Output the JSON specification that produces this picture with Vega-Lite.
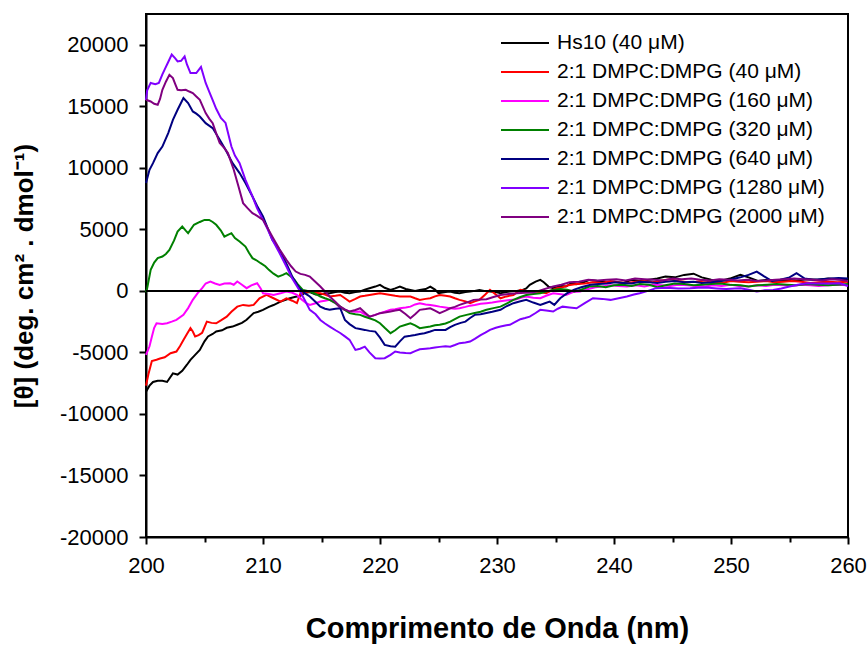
{
  "$schema": "https://vega.github.io/schema/vega-lite/v6.json",
  "width": 702,
  "height": 523,
  "autosize": {"type": "none"},
  "padding": {"left": 146, "top": 14, "right": 20, "bottom": 108},
  "background": "white",
  "config": {
    "view": {"stroke": "black", "strokeWidth": 2},
    "font": "Liberation Sans",
    "axis": {
      "grid": false,
      "domainColor": "black",
      "domainWidth": 2,
      "tickColor": "black",
      "tickWidth": 2,
      "labelColor": "black",
      "labelFont": "Liberation Sans",
      "labelFontSize": 22,
      "titleFont": "Liberation Sans",
      "titleFontWeight": "bold",
      "titleColor": "black"
    }
  },
  "layer": [
    {
      "data": {"name": "curves"},
      "mark": {"type": "line", "strokeWidth": 2, "interpolate": "linear"},
      "encoding": {
        "x": {
          "field": "x", "type": "quantitative",
          "scale": {"domain": [200, 260], "nice": false, "zero": false},
          "axis": {
            "values": [200, 205, 210, 215, 220, 225, 230, 235, 240, 245, 250, 255, 260],
            "labelExpr": "datum.value % 10 === 0 ? '' + datum.value : ''",
            "tickSize": {"condition": {"test": "datum.value % 10 === 0", "value": 7}, "value": 5},
            "labelPadding": 11,
            "labelFlush": false,
            "title": "Comprimento de Onda (nm)",
            "titleFontSize": 29,
            "titlePadding": 38
          }
        },
        "y": {
          "field": "y", "type": "quantitative",
          "scale": {"domain": [-20000, 22500], "nice": false, "zero": false},
          "axis": {
            "values": [-20000, -17500, -15000, -12500, -10000, -7500, -5000, -2500, 0, 2500, 5000, 7500, 10000, 12500, 15000, 17500, 20000],
            "labelExpr": "datum.value % 5000 === 0 ? '' + datum.value : ''",
            "tickSize": {"condition": {"test": "datum.value % 5000 === 0", "value": 7}, "value": 5},
            "labelPadding": 11,
            "labelFlush": false,
            "title": "[θ] (deg. cm² . dmol⁻¹)",
            "titleFontSize": 26,
            "titlePadding": 22
          }
        },
        "color": {
          "field": "s", "type": "nominal",
          "scale": {
            "domain": ["Hs10 (40 μM)", "2:1 DMPC:DMPG (40 μM)", "2:1 DMPC:DMPG (160 μM)", "2:1 DMPC:DMPG (320 μM)", "2:1 DMPC:DMPG (640 μM)", "2:1 DMPC:DMPG (1280 μM)", "2:1 DMPC:DMPG (2000 μM)"],
            "range": ["#000000", "#FF0000", "#FF00FF", "#008000", "#000080", "#8000FF", "#800080"]
          },
          "legend": {
            "title": null,
            "orient": "none",
            "legendX": 354,
            "legendY": 18,
            "padding": 0,
            "symbolType": "M-1,0H3.8",
            "symbolSize": 400,
            "symbolStrokeWidth": 2,
            "labelFont": "Liberation Sans",
            "labelFontSize": 21,
            "labelColor": "black",
            "labelOffset": 35,
            "rowPadding": 8,
            "labelLimit": 400
          }
        },
        "order": {"field": "x", "type": "quantitative"}
      }
    },
    {
      "data": {"values": [{"zero": 0}]},
      "mark": {"type": "rule", "color": "black", "strokeWidth": 2},
      "encoding": {"y": {"field": "zero", "type": "quantitative"}}
    }
  ],
  "datasets": {
    "curves": [
{"s":"Hs10 (40 μM)","x":200.0,"y":-8200},{"s":"Hs10 (40 μM)","x":200.3,"y":-7700},{"s":"Hs10 (40 μM)","x":200.6,"y":-7400},{"s":"Hs10 (40 μM)","x":201.0,"y":-7300},{"s":"Hs10 (40 μM)","x":201.4,"y":-7300},{"s":"Hs10 (40 μM)","x":201.8,"y":-7400},{"s":"Hs10 (40 μM)","x":202.3,"y":-6700},{"s":"Hs10 (40 μM)","x":202.7,"y":-6800},{"s":"Hs10 (40 μM)","x":203.1,"y":-6500},{"s":"Hs10 (40 μM)","x":203.5,"y":-6000},{"s":"Hs10 (40 μM)","x":203.8,"y":-5600},{"s":"Hs10 (40 μM)","x":204.2,"y":-5200},{"s":"Hs10 (40 μM)","x":204.6,"y":-4800},{"s":"Hs10 (40 μM)","x":205.0,"y":-4100},{"s":"Hs10 (40 μM)","x":205.3,"y":-3700},{"s":"Hs10 (40 μM)","x":205.7,"y":-3500},{"s":"Hs10 (40 μM)","x":206.0,"y":-3300},{"s":"Hs10 (40 μM)","x":206.5,"y":-3200},{"s":"Hs10 (40 μM)","x":206.9,"y":-3000},{"s":"Hs10 (40 μM)","x":207.4,"y":-2900},{"s":"Hs10 (40 μM)","x":207.8,"y":-2750},{"s":"Hs10 (40 μM)","x":208.2,"y":-2600},{"s":"Hs10 (40 μM)","x":208.6,"y":-2350},{"s":"Hs10 (40 μM)","x":209.2,"y":-1800},{"s":"Hs10 (40 μM)","x":209.6,"y":-1700},{"s":"Hs10 (40 μM)","x":210.0,"y":-1550},{"s":"Hs10 (40 μM)","x":210.5,"y":-1300},{"s":"Hs10 (40 μM)","x":210.9,"y":-1150},{"s":"Hs10 (40 μM)","x":211.5,"y":-870},{"s":"Hs10 (40 μM)","x":212.0,"y":-700},{"s":"Hs10 (40 μM)","x":212.3,"y":-600},{"s":"Hs10 (40 μM)","x":212.7,"y":-500},{"s":"Hs10 (40 μM)","x":213.2,"y":-400},{"s":"Hs10 (40 μM)","x":213.6,"y":-150},{"s":"Hs10 (40 μM)","x":214.0,"y":-100},{"s":"Hs10 (40 μM)","x":214.5,"y":-300},{"s":"Hs10 (40 μM)","x":214.9,"y":-300},{"s":"Hs10 (40 μM)","x":215.3,"y":-200},{"s":"Hs10 (40 μM)","x":215.7,"y":-190},{"s":"Hs10 (40 μM)","x":216.2,"y":-100},{"s":"Hs10 (40 μM)","x":216.6,"y":-50},{"s":"Hs10 (40 μM)","x":217.0,"y":-150},{"s":"Hs10 (40 μM)","x":217.4,"y":-190},{"s":"Hs10 (40 μM)","x":217.9,"y":-100},{"s":"Hs10 (40 μM)","x":218.3,"y":-50},{"s":"Hs10 (40 μM)","x":218.7,"y":100},{"s":"Hs10 (40 μM)","x":219.1,"y":220},{"s":"Hs10 (40 μM)","x":219.6,"y":350},{"s":"Hs10 (40 μM)","x":220.0,"y":490},{"s":"Hs10 (40 μM)","x":220.4,"y":250},{"s":"Hs10 (40 μM)","x":220.9,"y":80},{"s":"Hs10 (40 μM)","x":221.3,"y":200},{"s":"Hs10 (40 μM)","x":221.7,"y":350},{"s":"Hs10 (40 μM)","x":222.2,"y":150},{"s":"Hs10 (40 μM)","x":222.6,"y":80},{"s":"Hs10 (40 μM)","x":223.0,"y":0},{"s":"Hs10 (40 μM)","x":223.4,"y":80},{"s":"Hs10 (40 μM)","x":223.9,"y":150},{"s":"Hs10 (40 μM)","x":224.3,"y":350},{"s":"Hs10 (40 μM)","x":224.7,"y":100},{"s":"Hs10 (40 μM)","x":225.0,"y":-190},{"s":"Hs10 (40 μM)","x":225.6,"y":-100},{"s":"Hs10 (40 μM)","x":226.0,"y":-50},{"s":"Hs10 (40 μM)","x":226.4,"y":-150},{"s":"Hs10 (40 μM)","x":226.8,"y":-190},{"s":"Hs10 (40 μM)","x":227.3,"y":-100},{"s":"Hs10 (40 μM)","x":227.7,"y":-50},{"s":"Hs10 (40 μM)","x":228.1,"y":0},{"s":"Hs10 (40 μM)","x":228.5,"y":80},{"s":"Hs10 (40 μM)","x":229.0,"y":-20},{"s":"Hs10 (40 μM)","x":229.4,"y":-50},{"s":"Hs10 (40 μM)","x":229.9,"y":-100},{"s":"Hs10 (40 μM)","x":230.3,"y":-190},{"s":"Hs10 (40 μM)","x":230.8,"y":-100},{"s":"Hs10 (40 μM)","x":231.1,"y":-50},{"s":"Hs10 (40 μM)","x":231.7,"y":0},{"s":"Hs10 (40 μM)","x":232.2,"y":80},{"s":"Hs10 (40 μM)","x":232.5,"y":200},{"s":"Hs10 (40 μM)","x":232.8,"y":490},{"s":"Hs10 (40 μM)","x":233.3,"y":750},{"s":"Hs10 (40 μM)","x":233.7,"y":890},{"s":"Hs10 (40 μM)","x":234.0,"y":700},{"s":"Hs10 (40 μM)","x":234.4,"y":350},{"s":"Hs10 (40 μM)","x":234.8,"y":220},{"s":"Hs10 (40 μM)","x":235.1,"y":300},{"s":"Hs10 (40 μM)","x":235.5,"y":400},{"s":"Hs10 (40 μM)","x":235.9,"y":350},{"s":"Hs10 (40 μM)","x":236.3,"y":600},{"s":"Hs10 (40 μM)","x":236.8,"y":550},{"s":"Hs10 (40 μM)","x":237.4,"y":700},{"s":"Hs10 (40 μM)","x":237.9,"y":890},{"s":"Hs10 (40 μM)","x":238.6,"y":800},{"s":"Hs10 (40 μM)","x":239.3,"y":700},{"s":"Hs10 (40 μM)","x":240.0,"y":750},{"s":"Hs10 (40 μM)","x":240.8,"y":650},{"s":"Hs10 (40 μM)","x":241.5,"y":900},{"s":"Hs10 (40 μM)","x":242.2,"y":800},{"s":"Hs10 (40 μM)","x":243.0,"y":900},{"s":"Hs10 (40 μM)","x":243.7,"y":1000},{"s":"Hs10 (40 μM)","x":244.4,"y":1160},{"s":"Hs10 (40 μM)","x":245.2,"y":1100},{"s":"Hs10 (40 μM)","x":246.0,"y":1300},{"s":"Hs10 (40 μM)","x":246.8,"y":1400},{"s":"Hs10 (40 μM)","x":247.5,"y":1100},{"s":"Hs10 (40 μM)","x":248.3,"y":900},{"s":"Hs10 (40 μM)","x":249.1,"y":800},{"s":"Hs10 (40 μM)","x":249.9,"y":1000},{"s":"Hs10 (40 μM)","x":250.8,"y":1300},{"s":"Hs10 (40 μM)","x":251.5,"y":1100},{"s":"Hs10 (40 μM)","x":252.3,"y":800},{"s":"Hs10 (40 μM)","x":253.1,"y":900},{"s":"Hs10 (40 μM)","x":253.9,"y":850},{"s":"Hs10 (40 μM)","x":254.8,"y":900},{"s":"Hs10 (40 μM)","x":255.6,"y":850},{"s":"Hs10 (40 μM)","x":256.5,"y":950},{"s":"Hs10 (40 μM)","x":257.4,"y":900},{"s":"Hs10 (40 μM)","x":258.3,"y":1000},{"s":"Hs10 (40 μM)","x":259.1,"y":950},{"s":"Hs10 (40 μM)","x":260.0,"y":900},
{"s":"2:1 DMPC:DMPG (40 μM)","x":200.0,"y":-7700},{"s":"2:1 DMPC:DMPG (40 μM)","x":200.2,"y":-6800},{"s":"2:1 DMPC:DMPG (40 μM)","x":200.5,"y":-5700},{"s":"2:1 DMPC:DMPG (40 μM)","x":200.9,"y":-5600},{"s":"2:1 DMPC:DMPG (40 μM)","x":201.2,"y":-5500},{"s":"2:1 DMPC:DMPG (40 μM)","x":201.6,"y":-5400},{"s":"2:1 DMPC:DMPG (40 μM)","x":202.1,"y":-5070},{"s":"2:1 DMPC:DMPG (40 μM)","x":202.6,"y":-4930},{"s":"2:1 DMPC:DMPG (40 μM)","x":202.9,"y":-4500},{"s":"2:1 DMPC:DMPG (40 μM)","x":203.2,"y":-4000},{"s":"2:1 DMPC:DMPG (40 μM)","x":203.5,"y":-3500},{"s":"2:1 DMPC:DMPG (40 μM)","x":203.8,"y":-3030},{"s":"2:1 DMPC:DMPG (40 μM)","x":204.0,"y":-3300},{"s":"2:1 DMPC:DMPG (40 μM)","x":204.2,"y":-3700},{"s":"2:1 DMPC:DMPG (40 μM)","x":204.5,"y":-3600},{"s":"2:1 DMPC:DMPG (40 μM)","x":204.8,"y":-3400},{"s":"2:1 DMPC:DMPG (40 μM)","x":205.2,"y":-2500},{"s":"2:1 DMPC:DMPG (40 μM)","x":205.6,"y":-2600},{"s":"2:1 DMPC:DMPG (40 μM)","x":206.0,"y":-2630},{"s":"2:1 DMPC:DMPG (40 μM)","x":206.4,"y":-2400},{"s":"2:1 DMPC:DMPG (40 μM)","x":206.9,"y":-2090},{"s":"2:1 DMPC:DMPG (40 μM)","x":207.3,"y":-1700},{"s":"2:1 DMPC:DMPG (40 μM)","x":207.8,"y":-1280},{"s":"2:1 DMPC:DMPG (40 μM)","x":208.3,"y":-1140},{"s":"2:1 DMPC:DMPG (40 μM)","x":208.8,"y":-1200},{"s":"2:1 DMPC:DMPG (40 μM)","x":209.2,"y":-1140},{"s":"2:1 DMPC:DMPG (40 μM)","x":209.7,"y":-600},{"s":"2:1 DMPC:DMPG (40 μM)","x":210.3,"y":-330},{"s":"2:1 DMPC:DMPG (40 μM)","x":210.9,"y":-600},{"s":"2:1 DMPC:DMPG (40 μM)","x":211.5,"y":-870},{"s":"2:1 DMPC:DMPG (40 μM)","x":212.0,"y":-600},{"s":"2:1 DMPC:DMPG (40 μM)","x":212.5,"y":-800},{"s":"2:1 DMPC:DMPG (40 μM)","x":212.9,"y":-1000},{"s":"2:1 DMPC:DMPG (40 μM)","x":213.2,"y":-200},{"s":"2:1 DMPC:DMPG (40 μM)","x":213.6,"y":-100},{"s":"2:1 DMPC:DMPG (40 μM)","x":214.0,"y":-50},{"s":"2:1 DMPC:DMPG (40 μM)","x":214.5,"y":-150},{"s":"2:1 DMPC:DMPG (40 μM)","x":214.9,"y":-190},{"s":"2:1 DMPC:DMPG (40 μM)","x":215.3,"y":-300},{"s":"2:1 DMPC:DMPG (40 μM)","x":215.7,"y":-460},{"s":"2:1 DMPC:DMPG (40 μM)","x":216.2,"y":-400},{"s":"2:1 DMPC:DMPG (40 μM)","x":216.6,"y":-330},{"s":"2:1 DMPC:DMPG (40 μM)","x":217.0,"y":-600},{"s":"2:1 DMPC:DMPG (40 μM)","x":217.4,"y":-870},{"s":"2:1 DMPC:DMPG (40 μM)","x":217.9,"y":-650},{"s":"2:1 DMPC:DMPG (40 μM)","x":218.3,"y":-460},{"s":"2:1 DMPC:DMPG (40 μM)","x":218.7,"y":-400},{"s":"2:1 DMPC:DMPG (40 μM)","x":219.1,"y":-330},{"s":"2:1 DMPC:DMPG (40 μM)","x":219.6,"y":-250},{"s":"2:1 DMPC:DMPG (40 μM)","x":220.0,"y":-190},{"s":"2:1 DMPC:DMPG (40 μM)","x":220.4,"y":-250},{"s":"2:1 DMPC:DMPG (40 μM)","x":220.9,"y":-330},{"s":"2:1 DMPC:DMPG (40 μM)","x":221.3,"y":-400},{"s":"2:1 DMPC:DMPG (40 μM)","x":221.7,"y":-460},{"s":"2:1 DMPC:DMPG (40 μM)","x":222.2,"y":-450},{"s":"2:1 DMPC:DMPG (40 μM)","x":222.6,"y":-460},{"s":"2:1 DMPC:DMPG (40 μM)","x":223.0,"y":-600},{"s":"2:1 DMPC:DMPG (40 μM)","x":223.4,"y":-730},{"s":"2:1 DMPC:DMPG (40 μM)","x":223.9,"y":-650},{"s":"2:1 DMPC:DMPG (40 μM)","x":224.3,"y":-600},{"s":"2:1 DMPC:DMPG (40 μM)","x":224.7,"y":-450},{"s":"2:1 DMPC:DMPG (40 μM)","x":225.1,"y":-330},{"s":"2:1 DMPC:DMPG (40 μM)","x":225.6,"y":-400},{"s":"2:1 DMPC:DMPG (40 μM)","x":226.0,"y":-460},{"s":"2:1 DMPC:DMPG (40 μM)","x":226.4,"y":-600},{"s":"2:1 DMPC:DMPG (40 μM)","x":226.8,"y":-730},{"s":"2:1 DMPC:DMPG (40 μM)","x":227.3,"y":-850},{"s":"2:1 DMPC:DMPG (40 μM)","x":227.7,"y":-1000},{"s":"2:1 DMPC:DMPG (40 μM)","x":228.1,"y":-850},{"s":"2:1 DMPC:DMPG (40 μM)","x":228.5,"y":-730},{"s":"2:1 DMPC:DMPG (40 μM)","x":229.0,"y":-300},{"s":"2:1 DMPC:DMPG (40 μM)","x":229.4,"y":80},{"s":"2:1 DMPC:DMPG (40 μM)","x":229.9,"y":-300},{"s":"2:1 DMPC:DMPG (40 μM)","x":230.3,"y":-600},{"s":"2:1 DMPC:DMPG (40 μM)","x":230.8,"y":-450},{"s":"2:1 DMPC:DMPG (40 μM)","x":231.4,"y":-330},{"s":"2:1 DMPC:DMPG (40 μM)","x":232.0,"y":80},{"s":"2:1 DMPC:DMPG (40 μM)","x":232.5,"y":0},{"s":"2:1 DMPC:DMPG (40 μM)","x":233.1,"y":-50},{"s":"2:1 DMPC:DMPG (40 μM)","x":233.6,"y":-100},{"s":"2:1 DMPC:DMPG (40 μM)","x":234.2,"y":-190},{"s":"2:1 DMPC:DMPG (40 μM)","x":234.7,"y":50},{"s":"2:1 DMPC:DMPG (40 μM)","x":235.1,"y":220},{"s":"2:1 DMPC:DMPG (40 μM)","x":235.6,"y":300},{"s":"2:1 DMPC:DMPG (40 μM)","x":236.1,"y":450},{"s":"2:1 DMPC:DMPG (40 μM)","x":236.8,"y":550},{"s":"2:1 DMPC:DMPG (40 μM)","x":237.5,"y":600},{"s":"2:1 DMPC:DMPG (40 μM)","x":238.2,"y":700},{"s":"2:1 DMPC:DMPG (40 μM)","x":239.0,"y":650},{"s":"2:1 DMPC:DMPG (40 μM)","x":239.7,"y":800},{"s":"2:1 DMPC:DMPG (40 μM)","x":240.4,"y":700},{"s":"2:1 DMPC:DMPG (40 μM)","x":241.1,"y":650},{"s":"2:1 DMPC:DMPG (40 μM)","x":241.9,"y":750},{"s":"2:1 DMPC:DMPG (40 μM)","x":242.6,"y":800},{"s":"2:1 DMPC:DMPG (40 μM)","x":243.3,"y":700},{"s":"2:1 DMPC:DMPG (40 μM)","x":244.1,"y":850},{"s":"2:1 DMPC:DMPG (40 μM)","x":244.8,"y":950},{"s":"2:1 DMPC:DMPG (40 μM)","x":245.5,"y":800},{"s":"2:1 DMPC:DMPG (40 μM)","x":246.3,"y":700},{"s":"2:1 DMPC:DMPG (40 μM)","x":247.0,"y":750},{"s":"2:1 DMPC:DMPG (40 μM)","x":247.8,"y":850},{"s":"2:1 DMPC:DMPG (40 μM)","x":248.5,"y":700},{"s":"2:1 DMPC:DMPG (40 μM)","x":249.2,"y":650},{"s":"2:1 DMPC:DMPG (40 μM)","x":250.0,"y":800},{"s":"2:1 DMPC:DMPG (40 μM)","x":250.7,"y":750},{"s":"2:1 DMPC:DMPG (40 μM)","x":251.5,"y":700},{"s":"2:1 DMPC:DMPG (40 μM)","x":252.2,"y":750},{"s":"2:1 DMPC:DMPG (40 μM)","x":253.0,"y":800},{"s":"2:1 DMPC:DMPG (40 μM)","x":253.7,"y":700},{"s":"2:1 DMPC:DMPG (40 μM)","x":254.5,"y":750},{"s":"2:1 DMPC:DMPG (40 μM)","x":255.2,"y":800},{"s":"2:1 DMPC:DMPG (40 μM)","x":256.0,"y":750},{"s":"2:1 DMPC:DMPG (40 μM)","x":256.8,"y":650},{"s":"2:1 DMPC:DMPG (40 μM)","x":257.5,"y":700},{"s":"2:1 DMPC:DMPG (40 μM)","x":258.3,"y":750},{"s":"2:1 DMPC:DMPG (40 μM)","x":259.1,"y":700},{"s":"2:1 DMPC:DMPG (40 μM)","x":260.0,"y":750},
{"s":"2:1 DMPC:DMPG (160 μM)","x":200.0,"y":-5200},{"s":"2:1 DMPC:DMPG (160 μM)","x":200.3,"y":-4500},{"s":"2:1 DMPC:DMPG (160 μM)","x":200.5,"y":-3720},{"s":"2:1 DMPC:DMPG (160 μM)","x":200.7,"y":-3000},{"s":"2:1 DMPC:DMPG (160 μM)","x":200.9,"y":-2630},{"s":"2:1 DMPC:DMPG (160 μM)","x":201.4,"y":-2700},{"s":"2:1 DMPC:DMPG (160 μM)","x":201.8,"y":-2630},{"s":"2:1 DMPC:DMPG (160 μM)","x":202.2,"y":-2500},{"s":"2:1 DMPC:DMPG (160 μM)","x":202.6,"y":-2360},{"s":"2:1 DMPC:DMPG (160 μM)","x":203.2,"y":-1950},{"s":"2:1 DMPC:DMPG (160 μM)","x":203.6,"y":-1400},{"s":"2:1 DMPC:DMPG (160 μM)","x":204.0,"y":-730},{"s":"2:1 DMPC:DMPG (160 μM)","x":204.4,"y":-200},{"s":"2:1 DMPC:DMPG (160 μM)","x":204.8,"y":220},{"s":"2:1 DMPC:DMPG (160 μM)","x":205.1,"y":600},{"s":"2:1 DMPC:DMPG (160 μM)","x":205.5,"y":760},{"s":"2:1 DMPC:DMPG (160 μM)","x":205.9,"y":600},{"s":"2:1 DMPC:DMPG (160 μM)","x":206.3,"y":490},{"s":"2:1 DMPC:DMPG (160 μM)","x":206.7,"y":600},{"s":"2:1 DMPC:DMPG (160 μM)","x":207.2,"y":620},{"s":"2:1 DMPC:DMPG (160 μM)","x":207.5,"y":500},{"s":"2:1 DMPC:DMPG (160 μM)","x":207.8,"y":760},{"s":"2:1 DMPC:DMPG (160 μM)","x":208.2,"y":500},{"s":"2:1 DMPC:DMPG (160 μM)","x":208.6,"y":220},{"s":"2:1 DMPC:DMPG (160 μM)","x":209.0,"y":450},{"s":"2:1 DMPC:DMPG (160 μM)","x":209.5,"y":620},{"s":"2:1 DMPC:DMPG (160 μM)","x":209.8,"y":200},{"s":"2:1 DMPC:DMPG (160 μM)","x":210.0,"y":-190},{"s":"2:1 DMPC:DMPG (160 μM)","x":210.5,"y":-250},{"s":"2:1 DMPC:DMPG (160 μM)","x":210.9,"y":-330},{"s":"2:1 DMPC:DMPG (160 μM)","x":211.5,"y":-200},{"s":"2:1 DMPC:DMPG (160 μM)","x":212.0,"y":-50},{"s":"2:1 DMPC:DMPG (160 μM)","x":212.5,"y":-150},{"s":"2:1 DMPC:DMPG (160 μM)","x":212.9,"y":-330},{"s":"2:1 DMPC:DMPG (160 μM)","x":213.3,"y":-700},{"s":"2:1 DMPC:DMPG (160 μM)","x":213.7,"y":-1000},{"s":"2:1 DMPC:DMPG (160 μM)","x":214.0,"y":-1140},{"s":"2:1 DMPC:DMPG (160 μM)","x":214.5,"y":-1000},{"s":"2:1 DMPC:DMPG (160 μM)","x":214.9,"y":-870},{"s":"2:1 DMPC:DMPG (160 μM)","x":215.3,"y":-800},{"s":"2:1 DMPC:DMPG (160 μM)","x":215.7,"y":-730},{"s":"2:1 DMPC:DMPG (160 μM)","x":216.2,"y":-1000},{"s":"2:1 DMPC:DMPG (160 μM)","x":216.6,"y":-1410},{"s":"2:1 DMPC:DMPG (160 μM)","x":217.0,"y":-1550},{"s":"2:1 DMPC:DMPG (160 μM)","x":217.4,"y":-1680},{"s":"2:1 DMPC:DMPG (160 μM)","x":217.9,"y":-1700},{"s":"2:1 DMPC:DMPG (160 μM)","x":218.3,"y":-1680},{"s":"2:1 DMPC:DMPG (160 μM)","x":218.7,"y":-1900},{"s":"2:1 DMPC:DMPG (160 μM)","x":219.1,"y":-2090},{"s":"2:1 DMPC:DMPG (160 μM)","x":219.6,"y":-1950},{"s":"2:1 DMPC:DMPG (160 μM)","x":220.0,"y":-1810},{"s":"2:1 DMPC:DMPG (160 μM)","x":220.4,"y":-1700},{"s":"2:1 DMPC:DMPG (160 μM)","x":220.9,"y":-1540},{"s":"2:1 DMPC:DMPG (160 μM)","x":221.3,"y":-1500},{"s":"2:1 DMPC:DMPG (160 μM)","x":221.7,"y":-1410},{"s":"2:1 DMPC:DMPG (160 μM)","x":222.2,"y":-1350},{"s":"2:1 DMPC:DMPG (160 μM)","x":222.6,"y":-1280},{"s":"2:1 DMPC:DMPG (160 μM)","x":223.0,"y":-1100},{"s":"2:1 DMPC:DMPG (160 μM)","x":223.4,"y":-1000},{"s":"2:1 DMPC:DMPG (160 μM)","x":223.9,"y":-1100},{"s":"2:1 DMPC:DMPG (160 μM)","x":224.3,"y":-1140},{"s":"2:1 DMPC:DMPG (160 μM)","x":224.7,"y":-1200},{"s":"2:1 DMPC:DMPG (160 μM)","x":225.1,"y":-1280},{"s":"2:1 DMPC:DMPG (160 μM)","x":225.6,"y":-1350},{"s":"2:1 DMPC:DMPG (160 μM)","x":226.0,"y":-1410},{"s":"2:1 DMPC:DMPG (160 μM)","x":226.4,"y":-1450},{"s":"2:1 DMPC:DMPG (160 μM)","x":226.8,"y":-1410},{"s":"2:1 DMPC:DMPG (160 μM)","x":227.3,"y":-1300},{"s":"2:1 DMPC:DMPG (160 μM)","x":227.7,"y":-1200},{"s":"2:1 DMPC:DMPG (160 μM)","x":228.1,"y":-1140},{"s":"2:1 DMPC:DMPG (160 μM)","x":228.6,"y":-1050},{"s":"2:1 DMPC:DMPG (160 μM)","x":229.1,"y":-1000},{"s":"2:1 DMPC:DMPG (160 μM)","x":229.6,"y":-950},{"s":"2:1 DMPC:DMPG (160 μM)","x":230.1,"y":-870},{"s":"2:1 DMPC:DMPG (160 μM)","x":230.6,"y":-800},{"s":"2:1 DMPC:DMPG (160 μM)","x":231.1,"y":-750},{"s":"2:1 DMPC:DMPG (160 μM)","x":231.6,"y":-700},{"s":"2:1 DMPC:DMPG (160 μM)","x":232.1,"y":-550},{"s":"2:1 DMPC:DMPG (160 μM)","x":232.5,"y":-460},{"s":"2:1 DMPC:DMPG (160 μM)","x":233.1,"y":-550},{"s":"2:1 DMPC:DMPG (160 μM)","x":233.7,"y":-600},{"s":"2:1 DMPC:DMPG (160 μM)","x":234.2,"y":-400},{"s":"2:1 DMPC:DMPG (160 μM)","x":234.8,"y":-190},{"s":"2:1 DMPC:DMPG (160 μM)","x":235.3,"y":-250},{"s":"2:1 DMPC:DMPG (160 μM)","x":235.9,"y":-330},{"s":"2:1 DMPC:DMPG (160 μM)","x":236.5,"y":-100},{"s":"2:1 DMPC:DMPG (160 μM)","x":237.1,"y":-50},{"s":"2:1 DMPC:DMPG (160 μM)","x":237.8,"y":150},{"s":"2:1 DMPC:DMPG (160 μM)","x":238.4,"y":300},{"s":"2:1 DMPC:DMPG (160 μM)","x":239.0,"y":350},{"s":"2:1 DMPC:DMPG (160 μM)","x":239.7,"y":450},{"s":"2:1 DMPC:DMPG (160 μM)","x":240.4,"y":400},{"s":"2:1 DMPC:DMPG (160 μM)","x":241.1,"y":350},{"s":"2:1 DMPC:DMPG (160 μM)","x":241.9,"y":450},{"s":"2:1 DMPC:DMPG (160 μM)","x":242.6,"y":350},{"s":"2:1 DMPC:DMPG (160 μM)","x":243.3,"y":500},{"s":"2:1 DMPC:DMPG (160 μM)","x":244.1,"y":450},{"s":"2:1 DMPC:DMPG (160 μM)","x":244.8,"y":400},{"s":"2:1 DMPC:DMPG (160 μM)","x":245.5,"y":500},{"s":"2:1 DMPC:DMPG (160 μM)","x":246.3,"y":450},{"s":"2:1 DMPC:DMPG (160 μM)","x":247.0,"y":400},{"s":"2:1 DMPC:DMPG (160 μM)","x":247.8,"y":350},{"s":"2:1 DMPC:DMPG (160 μM)","x":248.5,"y":450},{"s":"2:1 DMPC:DMPG (160 μM)","x":249.2,"y":400},{"s":"2:1 DMPC:DMPG (160 μM)","x":250.0,"y":500},{"s":"2:1 DMPC:DMPG (160 μM)","x":250.7,"y":400},{"s":"2:1 DMPC:DMPG (160 μM)","x":251.5,"y":350},{"s":"2:1 DMPC:DMPG (160 μM)","x":252.2,"y":450},{"s":"2:1 DMPC:DMPG (160 μM)","x":253.0,"y":400},{"s":"2:1 DMPC:DMPG (160 μM)","x":253.7,"y":500},{"s":"2:1 DMPC:DMPG (160 μM)","x":254.5,"y":450},{"s":"2:1 DMPC:DMPG (160 μM)","x":255.2,"y":400},{"s":"2:1 DMPC:DMPG (160 μM)","x":256.0,"y":500},{"s":"2:1 DMPC:DMPG (160 μM)","x":256.8,"y":450},{"s":"2:1 DMPC:DMPG (160 μM)","x":257.5,"y":400},{"s":"2:1 DMPC:DMPG (160 μM)","x":258.3,"y":450},{"s":"2:1 DMPC:DMPG (160 μM)","x":259.1,"y":500},{"s":"2:1 DMPC:DMPG (160 μM)","x":260.0,"y":450},
{"s":"2:1 DMPC:DMPG (320 μM)","x":200.0,"y":-100},{"s":"2:1 DMPC:DMPG (320 μM)","x":200.1,"y":220},{"s":"2:1 DMPC:DMPG (320 μM)","x":200.4,"y":1710},{"s":"2:1 DMPC:DMPG (320 μM)","x":200.7,"y":2300},{"s":"2:1 DMPC:DMPG (320 μM)","x":201.0,"y":2660},{"s":"2:1 DMPC:DMPG (320 μM)","x":201.4,"y":2790},{"s":"2:1 DMPC:DMPG (320 μM)","x":201.7,"y":3000},{"s":"2:1 DMPC:DMPG (320 μM)","x":202.0,"y":3330},{"s":"2:1 DMPC:DMPG (320 μM)","x":202.4,"y":4100},{"s":"2:1 DMPC:DMPG (320 μM)","x":202.7,"y":4820},{"s":"2:1 DMPC:DMPG (320 μM)","x":203.1,"y":5230},{"s":"2:1 DMPC:DMPG (320 μM)","x":203.4,"y":4900},{"s":"2:1 DMPC:DMPG (320 μM)","x":203.6,"y":4690},{"s":"2:1 DMPC:DMPG (320 μM)","x":204.1,"y":5370},{"s":"2:1 DMPC:DMPG (320 μM)","x":204.6,"y":5600},{"s":"2:1 DMPC:DMPG (320 μM)","x":205.0,"y":5770},{"s":"2:1 DMPC:DMPG (320 μM)","x":205.4,"y":5770},{"s":"2:1 DMPC:DMPG (320 μM)","x":205.7,"y":5600},{"s":"2:1 DMPC:DMPG (320 μM)","x":206.0,"y":5370},{"s":"2:1 DMPC:DMPG (320 μM)","x":206.4,"y":4900},{"s":"2:1 DMPC:DMPG (320 μM)","x":206.7,"y":4410},{"s":"2:1 DMPC:DMPG (320 μM)","x":207.0,"y":4550},{"s":"2:1 DMPC:DMPG (320 μM)","x":207.3,"y":4690},{"s":"2:1 DMPC:DMPG (320 μM)","x":207.6,"y":4300},{"s":"2:1 DMPC:DMPG (320 μM)","x":208.0,"y":4010},{"s":"2:1 DMPC:DMPG (320 μM)","x":208.5,"y":3600},{"s":"2:1 DMPC:DMPG (320 μM)","x":208.8,"y":3100},{"s":"2:1 DMPC:DMPG (320 μM)","x":209.1,"y":2660},{"s":"2:1 DMPC:DMPG (320 μM)","x":209.5,"y":2450},{"s":"2:1 DMPC:DMPG (320 μM)","x":209.8,"y":2250},{"s":"2:1 DMPC:DMPG (320 μM)","x":210.2,"y":2000},{"s":"2:1 DMPC:DMPG (320 μM)","x":210.5,"y":1710},{"s":"2:1 DMPC:DMPG (320 μM)","x":210.9,"y":1400},{"s":"2:1 DMPC:DMPG (320 μM)","x":211.3,"y":1160},{"s":"2:1 DMPC:DMPG (320 μM)","x":211.7,"y":1300},{"s":"2:1 DMPC:DMPG (320 μM)","x":212.0,"y":1440},{"s":"2:1 DMPC:DMPG (320 μM)","x":212.4,"y":1150},{"s":"2:1 DMPC:DMPG (320 μM)","x":212.7,"y":890},{"s":"2:1 DMPC:DMPG (320 μM)","x":213.0,"y":500},{"s":"2:1 DMPC:DMPG (320 μM)","x":213.4,"y":80},{"s":"2:1 DMPC:DMPG (320 μM)","x":214.0,"y":-50},{"s":"2:1 DMPC:DMPG (320 μM)","x":214.5,"y":-250},{"s":"2:1 DMPC:DMPG (320 μM)","x":214.9,"y":-460},{"s":"2:1 DMPC:DMPG (320 μM)","x":215.3,"y":-600},{"s":"2:1 DMPC:DMPG (320 μM)","x":215.7,"y":-730},{"s":"2:1 DMPC:DMPG (320 μM)","x":216.2,"y":-1000},{"s":"2:1 DMPC:DMPG (320 μM)","x":216.6,"y":-1280},{"s":"2:1 DMPC:DMPG (320 μM)","x":217.0,"y":-1550},{"s":"2:1 DMPC:DMPG (320 μM)","x":217.4,"y":-1810},{"s":"2:1 DMPC:DMPG (320 μM)","x":217.9,"y":-1900},{"s":"2:1 DMPC:DMPG (320 μM)","x":218.3,"y":-1950},{"s":"2:1 DMPC:DMPG (320 μM)","x":218.7,"y":-2100},{"s":"2:1 DMPC:DMPG (320 μM)","x":219.1,"y":-2220},{"s":"2:1 DMPC:DMPG (320 μM)","x":219.6,"y":-2400},{"s":"2:1 DMPC:DMPG (320 μM)","x":220.0,"y":-2630},{"s":"2:1 DMPC:DMPG (320 μM)","x":220.4,"y":-3000},{"s":"2:1 DMPC:DMPG (320 μM)","x":220.9,"y":-3440},{"s":"2:1 DMPC:DMPG (320 μM)","x":221.3,"y":-3200},{"s":"2:1 DMPC:DMPG (320 μM)","x":221.7,"y":-2900},{"s":"2:1 DMPC:DMPG (320 μM)","x":222.2,"y":-2750},{"s":"2:1 DMPC:DMPG (320 μM)","x":222.6,"y":-2630},{"s":"2:1 DMPC:DMPG (320 μM)","x":223.0,"y":-2800},{"s":"2:1 DMPC:DMPG (320 μM)","x":223.4,"y":-3030},{"s":"2:1 DMPC:DMPG (320 μM)","x":223.9,"y":-2950},{"s":"2:1 DMPC:DMPG (320 μM)","x":224.3,"y":-2900},{"s":"2:1 DMPC:DMPG (320 μM)","x":224.7,"y":-2800},{"s":"2:1 DMPC:DMPG (320 μM)","x":225.1,"y":-2760},{"s":"2:1 DMPC:DMPG (320 μM)","x":225.6,"y":-2650},{"s":"2:1 DMPC:DMPG (320 μM)","x":226.0,"y":-2500},{"s":"2:1 DMPC:DMPG (320 μM)","x":226.4,"y":-2300},{"s":"2:1 DMPC:DMPG (320 μM)","x":226.8,"y":-2090},{"s":"2:1 DMPC:DMPG (320 μM)","x":227.4,"y":-1950},{"s":"2:1 DMPC:DMPG (320 μM)","x":228.0,"y":-1810},{"s":"2:1 DMPC:DMPG (320 μM)","x":228.6,"y":-1700},{"s":"2:1 DMPC:DMPG (320 μM)","x":229.1,"y":-1540},{"s":"2:1 DMPC:DMPG (320 μM)","x":229.7,"y":-1400},{"s":"2:1 DMPC:DMPG (320 μM)","x":230.3,"y":-1280},{"s":"2:1 DMPC:DMPG (320 μM)","x":230.9,"y":-1000},{"s":"2:1 DMPC:DMPG (320 μM)","x":231.4,"y":-730},{"s":"2:1 DMPC:DMPG (320 μM)","x":232.0,"y":-500},{"s":"2:1 DMPC:DMPG (320 μM)","x":232.5,"y":-330},{"s":"2:1 DMPC:DMPG (320 μM)","x":233.1,"y":-250},{"s":"2:1 DMPC:DMPG (320 μM)","x":233.7,"y":-190},{"s":"2:1 DMPC:DMPG (320 μM)","x":234.2,"y":-50},{"s":"2:1 DMPC:DMPG (320 μM)","x":234.8,"y":80},{"s":"2:1 DMPC:DMPG (320 μM)","x":235.4,"y":150},{"s":"2:1 DMPC:DMPG (320 μM)","x":236.0,"y":100},{"s":"2:1 DMPC:DMPG (320 μM)","x":236.6,"y":-50},{"s":"2:1 DMPC:DMPG (320 μM)","x":237.2,"y":100},{"s":"2:1 DMPC:DMPG (320 μM)","x":237.9,"y":350},{"s":"2:1 DMPC:DMPG (320 μM)","x":238.6,"y":400},{"s":"2:1 DMPC:DMPG (320 μM)","x":239.3,"y":300},{"s":"2:1 DMPC:DMPG (320 μM)","x":240.0,"y":450},{"s":"2:1 DMPC:DMPG (320 μM)","x":240.8,"y":500},{"s":"2:1 DMPC:DMPG (320 μM)","x":241.5,"y":400},{"s":"2:1 DMPC:DMPG (320 μM)","x":242.2,"y":550},{"s":"2:1 DMPC:DMPG (320 μM)","x":243.0,"y":500},{"s":"2:1 DMPC:DMPG (320 μM)","x":243.7,"y":300},{"s":"2:1 DMPC:DMPG (320 μM)","x":244.4,"y":450},{"s":"2:1 DMPC:DMPG (320 μM)","x":245.2,"y":600},{"s":"2:1 DMPC:DMPG (320 μM)","x":246.0,"y":550},{"s":"2:1 DMPC:DMPG (320 μM)","x":246.8,"y":450},{"s":"2:1 DMPC:DMPG (320 μM)","x":247.5,"y":500},{"s":"2:1 DMPC:DMPG (320 μM)","x":248.3,"y":550},{"s":"2:1 DMPC:DMPG (320 μM)","x":249.1,"y":600},{"s":"2:1 DMPC:DMPG (320 μM)","x":249.9,"y":500},{"s":"2:1 DMPC:DMPG (320 μM)","x":250.8,"y":450},{"s":"2:1 DMPC:DMPG (320 μM)","x":251.5,"y":350},{"s":"2:1 DMPC:DMPG (320 μM)","x":252.3,"y":450},{"s":"2:1 DMPC:DMPG (320 μM)","x":253.1,"y":500},{"s":"2:1 DMPC:DMPG (320 μM)","x":253.9,"y":550},{"s":"2:1 DMPC:DMPG (320 μM)","x":254.8,"y":500},{"s":"2:1 DMPC:DMPG (320 μM)","x":255.6,"y":450},{"s":"2:1 DMPC:DMPG (320 μM)","x":256.5,"y":550},{"s":"2:1 DMPC:DMPG (320 μM)","x":257.4,"y":500},{"s":"2:1 DMPC:DMPG (320 μM)","x":258.3,"y":450},{"s":"2:1 DMPC:DMPG (320 μM)","x":259.1,"y":500},{"s":"2:1 DMPC:DMPG (320 μM)","x":260.0,"y":550},
{"s":"2:1 DMPC:DMPG (640 μM)","x":200.0,"y":8760},{"s":"2:1 DMPC:DMPG (640 μM)","x":200.3,"y":9840},{"s":"2:1 DMPC:DMPG (640 μM)","x":200.6,"y":10380},{"s":"2:1 DMPC:DMPG (640 μM)","x":201.0,"y":11200},{"s":"2:1 DMPC:DMPG (640 μM)","x":201.4,"y":11730},{"s":"2:1 DMPC:DMPG (640 μM)","x":201.9,"y":12820},{"s":"2:1 DMPC:DMPG (640 μM)","x":202.3,"y":13900},{"s":"2:1 DMPC:DMPG (640 μM)","x":202.7,"y":14720},{"s":"2:1 DMPC:DMPG (640 μM)","x":203.2,"y":15670},{"s":"2:1 DMPC:DMPG (640 μM)","x":203.6,"y":15260},{"s":"2:1 DMPC:DMPG (640 μM)","x":204.0,"y":14580},{"s":"2:1 DMPC:DMPG (640 μM)","x":204.3,"y":14400},{"s":"2:1 DMPC:DMPG (640 μM)","x":204.6,"y":14170},{"s":"2:1 DMPC:DMPG (640 μM)","x":205.1,"y":13630},{"s":"2:1 DMPC:DMPG (640 μM)","x":205.7,"y":13230},{"s":"2:1 DMPC:DMPG (640 μM)","x":206.3,"y":12280},{"s":"2:1 DMPC:DMPG (640 μM)","x":206.8,"y":11460},{"s":"2:1 DMPC:DMPG (640 μM)","x":207.4,"y":10380},{"s":"2:1 DMPC:DMPG (640 μM)","x":208.0,"y":9570},{"s":"2:1 DMPC:DMPG (640 μM)","x":208.5,"y":8760},{"s":"2:1 DMPC:DMPG (640 μM)","x":209.1,"y":7670},{"s":"2:1 DMPC:DMPG (640 μM)","x":209.5,"y":6900},{"s":"2:1 DMPC:DMPG (640 μM)","x":210.0,"y":6040},{"s":"2:1 DMPC:DMPG (640 μM)","x":210.4,"y":5100},{"s":"2:1 DMPC:DMPG (640 μM)","x":210.8,"y":4150},{"s":"2:1 DMPC:DMPG (640 μM)","x":211.3,"y":3500},{"s":"2:1 DMPC:DMPG (640 μM)","x":211.7,"y":2790},{"s":"2:1 DMPC:DMPG (640 μM)","x":212.1,"y":2000},{"s":"2:1 DMPC:DMPG (640 μM)","x":212.5,"y":1160},{"s":"2:1 DMPC:DMPG (640 μM)","x":213.1,"y":220},{"s":"2:1 DMPC:DMPG (640 μM)","x":213.6,"y":-200},{"s":"2:1 DMPC:DMPG (640 μM)","x":214.0,"y":-460},{"s":"2:1 DMPC:DMPG (640 μM)","x":214.5,"y":-900},{"s":"2:1 DMPC:DMPG (640 μM)","x":214.9,"y":-1280},{"s":"2:1 DMPC:DMPG (640 μM)","x":215.3,"y":-1450},{"s":"2:1 DMPC:DMPG (640 μM)","x":215.7,"y":-1540},{"s":"2:1 DMPC:DMPG (640 μM)","x":216.2,"y":-1450},{"s":"2:1 DMPC:DMPG (640 μM)","x":216.6,"y":-1410},{"s":"2:1 DMPC:DMPG (640 μM)","x":217.0,"y":-2360},{"s":"2:1 DMPC:DMPG (640 μM)","x":217.4,"y":-2700},{"s":"2:1 DMPC:DMPG (640 μM)","x":217.9,"y":-3030},{"s":"2:1 DMPC:DMPG (640 μM)","x":218.3,"y":-3100},{"s":"2:1 DMPC:DMPG (640 μM)","x":218.7,"y":-3170},{"s":"2:1 DMPC:DMPG (640 μM)","x":219.1,"y":-3250},{"s":"2:1 DMPC:DMPG (640 μM)","x":219.6,"y":-3310},{"s":"2:1 DMPC:DMPG (640 μM)","x":220.0,"y":-3800},{"s":"2:1 DMPC:DMPG (640 μM)","x":220.4,"y":-4390},{"s":"2:1 DMPC:DMPG (640 μM)","x":220.9,"y":-4500},{"s":"2:1 DMPC:DMPG (640 μM)","x":221.3,"y":-4530},{"s":"2:1 DMPC:DMPG (640 μM)","x":221.7,"y":-4100},{"s":"2:1 DMPC:DMPG (640 μM)","x":222.1,"y":-3720},{"s":"2:1 DMPC:DMPG (640 μM)","x":222.6,"y":-3650},{"s":"2:1 DMPC:DMPG (640 μM)","x":223.0,"y":-3580},{"s":"2:1 DMPC:DMPG (640 μM)","x":223.4,"y":-3500},{"s":"2:1 DMPC:DMPG (640 μM)","x":223.8,"y":-3440},{"s":"2:1 DMPC:DMPG (640 μM)","x":224.3,"y":-3300},{"s":"2:1 DMPC:DMPG (640 μM)","x":224.7,"y":-3170},{"s":"2:1 DMPC:DMPG (640 μM)","x":225.1,"y":-3170},{"s":"2:1 DMPC:DMPG (640 μM)","x":225.6,"y":-3170},{"s":"2:1 DMPC:DMPG (640 μM)","x":226.0,"y":-2950},{"s":"2:1 DMPC:DMPG (640 μM)","x":226.4,"y":-2760},{"s":"2:1 DMPC:DMPG (640 μM)","x":226.9,"y":-2600},{"s":"2:1 DMPC:DMPG (640 μM)","x":227.3,"y":-2500},{"s":"2:1 DMPC:DMPG (640 μM)","x":227.7,"y":-2200},{"s":"2:1 DMPC:DMPG (640 μM)","x":228.1,"y":-1950},{"s":"2:1 DMPC:DMPG (640 μM)","x":228.6,"y":-1900},{"s":"2:1 DMPC:DMPG (640 μM)","x":229.0,"y":-1810},{"s":"2:1 DMPC:DMPG (640 μM)","x":229.6,"y":-1700},{"s":"2:1 DMPC:DMPG (640 μM)","x":230.3,"y":-1540},{"s":"2:1 DMPC:DMPG (640 μM)","x":230.8,"y":-1250},{"s":"2:1 DMPC:DMPG (640 μM)","x":231.4,"y":-1000},{"s":"2:1 DMPC:DMPG (640 μM)","x":232.0,"y":-850},{"s":"2:1 DMPC:DMPG (640 μM)","x":232.5,"y":-730},{"s":"2:1 DMPC:DMPG (640 μM)","x":233.1,"y":-950},{"s":"2:1 DMPC:DMPG (640 μM)","x":233.7,"y":-1140},{"s":"2:1 DMPC:DMPG (640 μM)","x":234.1,"y":-1000},{"s":"2:1 DMPC:DMPG (640 μM)","x":234.5,"y":-870},{"s":"2:1 DMPC:DMPG (640 μM)","x":234.9,"y":-1140},{"s":"2:1 DMPC:DMPG (640 μM)","x":235.4,"y":-600},{"s":"2:1 DMPC:DMPG (640 μM)","x":236.0,"y":-190},{"s":"2:1 DMPC:DMPG (640 μM)","x":236.6,"y":100},{"s":"2:1 DMPC:DMPG (640 μM)","x":237.2,"y":300},{"s":"2:1 DMPC:DMPG (640 μM)","x":238.0,"y":490},{"s":"2:1 DMPC:DMPG (640 μM)","x":238.7,"y":550},{"s":"2:1 DMPC:DMPG (640 μM)","x":239.4,"y":600},{"s":"2:1 DMPC:DMPG (640 μM)","x":240.1,"y":700},{"s":"2:1 DMPC:DMPG (640 μM)","x":240.8,"y":650},{"s":"2:1 DMPC:DMPG (640 μM)","x":241.5,"y":600},{"s":"2:1 DMPC:DMPG (640 μM)","x":242.2,"y":750},{"s":"2:1 DMPC:DMPG (640 μM)","x":243.0,"y":700},{"s":"2:1 DMPC:DMPG (640 μM)","x":243.7,"y":650},{"s":"2:1 DMPC:DMPG (640 μM)","x":244.4,"y":750},{"s":"2:1 DMPC:DMPG (640 μM)","x":245.2,"y":800},{"s":"2:1 DMPC:DMPG (640 μM)","x":246.0,"y":700},{"s":"2:1 DMPC:DMPG (640 μM)","x":246.8,"y":750},{"s":"2:1 DMPC:DMPG (640 μM)","x":247.5,"y":650},{"s":"2:1 DMPC:DMPG (640 μM)","x":248.3,"y":700},{"s":"2:1 DMPC:DMPG (640 μM)","x":249.1,"y":800},{"s":"2:1 DMPC:DMPG (640 μM)","x":249.9,"y":900},{"s":"2:1 DMPC:DMPG (640 μM)","x":250.8,"y":1100},{"s":"2:1 DMPC:DMPG (640 μM)","x":251.5,"y":1300},{"s":"2:1 DMPC:DMPG (640 μM)","x":252.2,"y":1570},{"s":"2:1 DMPC:DMPG (640 μM)","x":252.8,"y":1200},{"s":"2:1 DMPC:DMPG (640 μM)","x":253.5,"y":800},{"s":"2:1 DMPC:DMPG (640 μM)","x":254.2,"y":900},{"s":"2:1 DMPC:DMPG (640 μM)","x":255.0,"y":1100},{"s":"2:1 DMPC:DMPG (640 μM)","x":255.6,"y":1440},{"s":"2:1 DMPC:DMPG (640 μM)","x":256.3,"y":1000},{"s":"2:1 DMPC:DMPG (640 μM)","x":257.0,"y":900},{"s":"2:1 DMPC:DMPG (640 μM)","x":257.8,"y":950},{"s":"2:1 DMPC:DMPG (640 μM)","x":258.5,"y":1000},{"s":"2:1 DMPC:DMPG (640 μM)","x":259.2,"y":1050},{"s":"2:1 DMPC:DMPG (640 μM)","x":260.0,"y":1000},
{"s":"2:1 DMPC:DMPG (1280 μM)","x":200.0,"y":15500},{"s":"2:1 DMPC:DMPG (1280 μM)","x":200.1,"y":16300},{"s":"2:1 DMPC:DMPG (1280 μM)","x":200.4,"y":16900},{"s":"2:1 DMPC:DMPG (1280 μM)","x":200.8,"y":16800},{"s":"2:1 DMPC:DMPG (1280 μM)","x":201.1,"y":16900},{"s":"2:1 DMPC:DMPG (1280 μM)","x":201.4,"y":17600},{"s":"2:1 DMPC:DMPG (1280 μM)","x":201.6,"y":18000},{"s":"2:1 DMPC:DMPG (1280 μM)","x":201.9,"y":18600},{"s":"2:1 DMPC:DMPG (1280 μM)","x":202.2,"y":19200},{"s":"2:1 DMPC:DMPG (1280 μM)","x":202.5,"y":18900},{"s":"2:1 DMPC:DMPG (1280 μM)","x":202.7,"y":18650},{"s":"2:1 DMPC:DMPG (1280 μM)","x":203.0,"y":18700},{"s":"2:1 DMPC:DMPG (1280 μM)","x":203.3,"y":19050},{"s":"2:1 DMPC:DMPG (1280 μM)","x":203.5,"y":18400},{"s":"2:1 DMPC:DMPG (1280 μM)","x":203.8,"y":17700},{"s":"2:1 DMPC:DMPG (1280 μM)","x":204.3,"y":17700},{"s":"2:1 DMPC:DMPG (1280 μM)","x":204.7,"y":18200},{"s":"2:1 DMPC:DMPG (1280 μM)","x":205.1,"y":16900},{"s":"2:1 DMPC:DMPG (1280 μM)","x":205.4,"y":16200},{"s":"2:1 DMPC:DMPG (1280 μM)","x":205.7,"y":15500},{"s":"2:1 DMPC:DMPG (1280 μM)","x":206.0,"y":14800},{"s":"2:1 DMPC:DMPG (1280 μM)","x":206.4,"y":14050},{"s":"2:1 DMPC:DMPG (1280 μM)","x":206.8,"y":13650},{"s":"2:1 DMPC:DMPG (1280 μM)","x":207.3,"y":11730},{"s":"2:1 DMPC:DMPG (1280 μM)","x":207.6,"y":11000},{"s":"2:1 DMPC:DMPG (1280 μM)","x":208.0,"y":10380},{"s":"2:1 DMPC:DMPG (1280 μM)","x":208.5,"y":9020},{"s":"2:1 DMPC:DMPG (1280 μM)","x":209.1,"y":7670},{"s":"2:1 DMPC:DMPG (1280 μM)","x":209.5,"y":6700},{"s":"2:1 DMPC:DMPG (1280 μM)","x":210.0,"y":5770},{"s":"2:1 DMPC:DMPG (1280 μM)","x":210.4,"y":5000},{"s":"2:1 DMPC:DMPG (1280 μM)","x":210.8,"y":4150},{"s":"2:1 DMPC:DMPG (1280 μM)","x":211.4,"y":3100},{"s":"2:1 DMPC:DMPG (1280 μM)","x":212.0,"y":1980},{"s":"2:1 DMPC:DMPG (1280 μM)","x":212.5,"y":1000},{"s":"2:1 DMPC:DMPG (1280 μM)","x":213.1,"y":80},{"s":"2:1 DMPC:DMPG (1280 μM)","x":213.6,"y":-800},{"s":"2:1 DMPC:DMPG (1280 μM)","x":214.0,"y":-1540},{"s":"2:1 DMPC:DMPG (1280 μM)","x":214.5,"y":-1900},{"s":"2:1 DMPC:DMPG (1280 μM)","x":214.9,"y":-2360},{"s":"2:1 DMPC:DMPG (1280 μM)","x":215.3,"y":-2650},{"s":"2:1 DMPC:DMPG (1280 μM)","x":215.7,"y":-2900},{"s":"2:1 DMPC:DMPG (1280 μM)","x":216.2,"y":-3200},{"s":"2:1 DMPC:DMPG (1280 μM)","x":216.6,"y":-3420},{"s":"2:1 DMPC:DMPG (1280 μM)","x":217.0,"y":-3700},{"s":"2:1 DMPC:DMPG (1280 μM)","x":217.4,"y":-3980},{"s":"2:1 DMPC:DMPG (1280 μM)","x":217.9,"y":-4800},{"s":"2:1 DMPC:DMPG (1280 μM)","x":218.3,"y":-4700},{"s":"2:1 DMPC:DMPG (1280 μM)","x":218.7,"y":-4530},{"s":"2:1 DMPC:DMPG (1280 μM)","x":219.1,"y":-5000},{"s":"2:1 DMPC:DMPG (1280 μM)","x":219.6,"y":-5470},{"s":"2:1 DMPC:DMPG (1280 μM)","x":220.0,"y":-5500},{"s":"2:1 DMPC:DMPG (1280 μM)","x":220.4,"y":-5470},{"s":"2:1 DMPC:DMPG (1280 μM)","x":220.9,"y":-5200},{"s":"2:1 DMPC:DMPG (1280 μM)","x":221.3,"y":-4930},{"s":"2:1 DMPC:DMPG (1280 μM)","x":221.7,"y":-5000},{"s":"2:1 DMPC:DMPG (1280 μM)","x":222.2,"y":-5050},{"s":"2:1 DMPC:DMPG (1280 μM)","x":222.6,"y":-5070},{"s":"2:1 DMPC:DMPG (1280 μM)","x":223.0,"y":-4900},{"s":"2:1 DMPC:DMPG (1280 μM)","x":223.4,"y":-4750},{"s":"2:1 DMPC:DMPG (1280 μM)","x":223.9,"y":-4700},{"s":"2:1 DMPC:DMPG (1280 μM)","x":224.3,"y":-4660},{"s":"2:1 DMPC:DMPG (1280 μM)","x":224.7,"y":-4600},{"s":"2:1 DMPC:DMPG (1280 μM)","x":225.1,"y":-4550},{"s":"2:1 DMPC:DMPG (1280 μM)","x":225.6,"y":-4500},{"s":"2:1 DMPC:DMPG (1280 μM)","x":226.0,"y":-4530},{"s":"2:1 DMPC:DMPG (1280 μM)","x":226.4,"y":-4400},{"s":"2:1 DMPC:DMPG (1280 μM)","x":226.8,"y":-4250},{"s":"2:1 DMPC:DMPG (1280 μM)","x":227.3,"y":-4200},{"s":"2:1 DMPC:DMPG (1280 μM)","x":227.7,"y":-4120},{"s":"2:1 DMPC:DMPG (1280 μM)","x":228.1,"y":-3900},{"s":"2:1 DMPC:DMPG (1280 μM)","x":228.6,"y":-3600},{"s":"2:1 DMPC:DMPG (1280 μM)","x":229.0,"y":-3400},{"s":"2:1 DMPC:DMPG (1280 μM)","x":229.4,"y":-3170},{"s":"2:1 DMPC:DMPG (1280 μM)","x":229.9,"y":-3000},{"s":"2:1 DMPC:DMPG (1280 μM)","x":230.3,"y":-2900},{"s":"2:1 DMPC:DMPG (1280 μM)","x":230.8,"y":-2800},{"s":"2:1 DMPC:DMPG (1280 μM)","x":231.1,"y":-2760},{"s":"2:1 DMPC:DMPG (1280 μM)","x":231.6,"y":-2500},{"s":"2:1 DMPC:DMPG (1280 μM)","x":232.0,"y":-2300},{"s":"2:1 DMPC:DMPG (1280 μM)","x":232.4,"y":-2200},{"s":"2:1 DMPC:DMPG (1280 μM)","x":232.8,"y":-2090},{"s":"2:1 DMPC:DMPG (1280 μM)","x":233.3,"y":-1800},{"s":"2:1 DMPC:DMPG (1280 μM)","x":233.7,"y":-1540},{"s":"2:1 DMPC:DMPG (1280 μM)","x":234.2,"y":-1600},{"s":"2:1 DMPC:DMPG (1280 μM)","x":234.8,"y":-1680},{"s":"2:1 DMPC:DMPG (1280 μM)","x":235.2,"y":-1450},{"s":"2:1 DMPC:DMPG (1280 μM)","x":235.6,"y":-1280},{"s":"2:1 DMPC:DMPG (1280 μM)","x":236.2,"y":-1350},{"s":"2:1 DMPC:DMPG (1280 μM)","x":236.8,"y":-1410},{"s":"2:1 DMPC:DMPG (1280 μM)","x":237.5,"y":-1000},{"s":"2:1 DMPC:DMPG (1280 μM)","x":238.2,"y":-600},{"s":"2:1 DMPC:DMPG (1280 μM)","x":239.0,"y":-650},{"s":"2:1 DMPC:DMPG (1280 μM)","x":239.7,"y":-730},{"s":"2:1 DMPC:DMPG (1280 μM)","x":240.4,"y":-600},{"s":"2:1 DMPC:DMPG (1280 μM)","x":241.1,"y":-460},{"s":"2:1 DMPC:DMPG (1280 μM)","x":241.7,"y":-300},{"s":"2:1 DMPC:DMPG (1280 μM)","x":242.2,"y":-190},{"s":"2:1 DMPC:DMPG (1280 μM)","x":242.9,"y":0},{"s":"2:1 DMPC:DMPG (1280 μM)","x":243.6,"y":220},{"s":"2:1 DMPC:DMPG (1280 μM)","x":244.5,"y":250},{"s":"2:1 DMPC:DMPG (1280 μM)","x":245.5,"y":200},{"s":"2:1 DMPC:DMPG (1280 μM)","x":246.5,"y":220},{"s":"2:1 DMPC:DMPG (1280 μM)","x":247.2,"y":250},{"s":"2:1 DMPC:DMPG (1280 μM)","x":247.9,"y":270},{"s":"2:1 DMPC:DMPG (1280 μM)","x":248.8,"y":200},{"s":"2:1 DMPC:DMPG (1280 μM)","x":249.6,"y":150},{"s":"2:1 DMPC:DMPG (1280 μM)","x":250.3,"y":200},{"s":"2:1 DMPC:DMPG (1280 μM)","x":250.8,"y":220},{"s":"2:1 DMPC:DMPG (1280 μM)","x":251.5,"y":100},{"s":"2:1 DMPC:DMPG (1280 μM)","x":252.2,"y":-50},{"s":"2:1 DMPC:DMPG (1280 μM)","x":252.9,"y":50},{"s":"2:1 DMPC:DMPG (1280 μM)","x":253.6,"y":80},{"s":"2:1 DMPC:DMPG (1280 μM)","x":254.3,"y":200},{"s":"2:1 DMPC:DMPG (1280 μM)","x":255.0,"y":350},{"s":"2:1 DMPC:DMPG (1280 μM)","x":255.7,"y":500},{"s":"2:1 DMPC:DMPG (1280 μM)","x":256.5,"y":620},{"s":"2:1 DMPC:DMPG (1280 μM)","x":257.4,"y":600},{"s":"2:1 DMPC:DMPG (1280 μM)","x":258.3,"y":600},{"s":"2:1 DMPC:DMPG (1280 μM)","x":259.3,"y":620},{"s":"2:1 DMPC:DMPG (1280 μM)","x":260.0,"y":400},
{"s":"2:1 DMPC:DMPG (2000 μM)","x":200.0,"y":15530},{"s":"2:1 DMPC:DMPG (2000 μM)","x":200.4,"y":15390},{"s":"2:1 DMPC:DMPG (2000 μM)","x":200.7,"y":15200},{"s":"2:1 DMPC:DMPG (2000 μM)","x":201.0,"y":15120},{"s":"2:1 DMPC:DMPG (2000 μM)","x":201.2,"y":15600},{"s":"2:1 DMPC:DMPG (2000 μM)","x":201.4,"y":16340},{"s":"2:1 DMPC:DMPG (2000 μM)","x":201.7,"y":17000},{"s":"2:1 DMPC:DMPG (2000 μM)","x":202.0,"y":17560},{"s":"2:1 DMPC:DMPG (2000 μM)","x":202.3,"y":17290},{"s":"2:1 DMPC:DMPG (2000 μM)","x":202.5,"y":16800},{"s":"2:1 DMPC:DMPG (2000 μM)","x":202.7,"y":16340},{"s":"2:1 DMPC:DMPG (2000 μM)","x":203.0,"y":16300},{"s":"2:1 DMPC:DMPG (2000 μM)","x":203.4,"y":16340},{"s":"2:1 DMPC:DMPG (2000 μM)","x":203.7,"y":16200},{"s":"2:1 DMPC:DMPG (2000 μM)","x":204.0,"y":16070},{"s":"2:1 DMPC:DMPG (2000 μM)","x":204.3,"y":15800},{"s":"2:1 DMPC:DMPG (2000 μM)","x":204.6,"y":15530},{"s":"2:1 DMPC:DMPG (2000 μM)","x":205.1,"y":14450},{"s":"2:1 DMPC:DMPG (2000 μM)","x":205.4,"y":14000},{"s":"2:1 DMPC:DMPG (2000 μM)","x":205.7,"y":13630},{"s":"2:1 DMPC:DMPG (2000 μM)","x":206.0,"y":12800},{"s":"2:1 DMPC:DMPG (2000 μM)","x":206.3,"y":12010},{"s":"2:1 DMPC:DMPG (2000 μM)","x":206.7,"y":11600},{"s":"2:1 DMPC:DMPG (2000 μM)","x":207.0,"y":11200},{"s":"2:1 DMPC:DMPG (2000 μM)","x":207.5,"y":9840},{"s":"2:1 DMPC:DMPG (2000 μM)","x":207.9,"y":8500},{"s":"2:1 DMPC:DMPG (2000 μM)","x":208.3,"y":7130},{"s":"2:1 DMPC:DMPG (2000 μM)","x":208.7,"y":6700},{"s":"2:1 DMPC:DMPG (2000 μM)","x":209.1,"y":6320},{"s":"2:1 DMPC:DMPG (2000 μM)","x":209.5,"y":6100},{"s":"2:1 DMPC:DMPG (2000 μM)","x":210.0,"y":5770},{"s":"2:1 DMPC:DMPG (2000 μM)","x":210.4,"y":5100},{"s":"2:1 DMPC:DMPG (2000 μM)","x":210.8,"y":4410},{"s":"2:1 DMPC:DMPG (2000 μM)","x":211.4,"y":3400},{"s":"2:1 DMPC:DMPG (2000 μM)","x":212.0,"y":2520},{"s":"2:1 DMPC:DMPG (2000 μM)","x":212.4,"y":2000},{"s":"2:1 DMPC:DMPG (2000 μM)","x":212.8,"y":1570},{"s":"2:1 DMPC:DMPG (2000 μM)","x":213.2,"y":1380},{"s":"2:1 DMPC:DMPG (2000 μM)","x":213.6,"y":1300},{"s":"2:1 DMPC:DMPG (2000 μM)","x":214.0,"y":1160},{"s":"2:1 DMPC:DMPG (2000 μM)","x":214.4,"y":800},{"s":"2:1 DMPC:DMPG (2000 μM)","x":214.9,"y":350},{"s":"2:1 DMPC:DMPG (2000 μM)","x":215.3,"y":-50},{"s":"2:1 DMPC:DMPG (2000 μM)","x":215.7,"y":-460},{"s":"2:1 DMPC:DMPG (2000 μM)","x":216.2,"y":-900},{"s":"2:1 DMPC:DMPG (2000 μM)","x":216.6,"y":-1280},{"s":"2:1 DMPC:DMPG (2000 μM)","x":217.0,"y":-1500},{"s":"2:1 DMPC:DMPG (2000 μM)","x":217.4,"y":-1680},{"s":"2:1 DMPC:DMPG (2000 μM)","x":217.9,"y":-1550},{"s":"2:1 DMPC:DMPG (2000 μM)","x":218.3,"y":-1410},{"s":"2:1 DMPC:DMPG (2000 μM)","x":218.7,"y":-1750},{"s":"2:1 DMPC:DMPG (2000 μM)","x":219.1,"y":-2090},{"s":"2:1 DMPC:DMPG (2000 μM)","x":219.6,"y":-1950},{"s":"2:1 DMPC:DMPG (2000 μM)","x":220.0,"y":-1810},{"s":"2:1 DMPC:DMPG (2000 μM)","x":220.4,"y":-1750},{"s":"2:1 DMPC:DMPG (2000 μM)","x":220.9,"y":-1680},{"s":"2:1 DMPC:DMPG (2000 μM)","x":221.3,"y":-1600},{"s":"2:1 DMPC:DMPG (2000 μM)","x":221.7,"y":-1540},{"s":"2:1 DMPC:DMPG (2000 μM)","x":222.2,"y":-1900},{"s":"2:1 DMPC:DMPG (2000 μM)","x":222.6,"y":-2220},{"s":"2:1 DMPC:DMPG (2000 μM)","x":223.0,"y":-1900},{"s":"2:1 DMPC:DMPG (2000 μM)","x":223.4,"y":-1540},{"s":"2:1 DMPC:DMPG (2000 μM)","x":223.9,"y":-1480},{"s":"2:1 DMPC:DMPG (2000 μM)","x":224.3,"y":-1410},{"s":"2:1 DMPC:DMPG (2000 μM)","x":224.7,"y":-1600},{"s":"2:1 DMPC:DMPG (2000 μM)","x":225.1,"y":-1810},{"s":"2:1 DMPC:DMPG (2000 μM)","x":225.6,"y":-1600},{"s":"2:1 DMPC:DMPG (2000 μM)","x":226.0,"y":-1410},{"s":"2:1 DMPC:DMPG (2000 μM)","x":226.4,"y":-1300},{"s":"2:1 DMPC:DMPG (2000 μM)","x":226.8,"y":-1140},{"s":"2:1 DMPC:DMPG (2000 μM)","x":227.4,"y":-950},{"s":"2:1 DMPC:DMPG (2000 μM)","x":228.0,"y":-730},{"s":"2:1 DMPC:DMPG (2000 μM)","x":228.6,"y":-700},{"s":"2:1 DMPC:DMPG (2000 μM)","x":229.1,"y":-680},{"s":"2:1 DMPC:DMPG (2000 μM)","x":229.7,"y":-500},{"s":"2:1 DMPC:DMPG (2000 μM)","x":230.3,"y":-330},{"s":"2:1 DMPC:DMPG (2000 μM)","x":231.0,"y":-250},{"s":"2:1 DMPC:DMPG (2000 μM)","x":231.7,"y":-190},{"s":"2:1 DMPC:DMPG (2000 μM)","x":232.4,"y":-160},{"s":"2:1 DMPC:DMPG (2000 μM)","x":233.1,"y":-140},{"s":"2:1 DMPC:DMPG (2000 μM)","x":233.9,"y":100},{"s":"2:1 DMPC:DMPG (2000 μM)","x":234.8,"y":350},{"s":"2:1 DMPC:DMPG (2000 μM)","x":235.5,"y":500},{"s":"2:1 DMPC:DMPG (2000 μM)","x":236.2,"y":700},{"s":"2:1 DMPC:DMPG (2000 μM)","x":237.0,"y":750},{"s":"2:1 DMPC:DMPG (2000 μM)","x":237.8,"y":900},{"s":"2:1 DMPC:DMPG (2000 μM)","x":238.6,"y":850},{"s":"2:1 DMPC:DMPG (2000 μM)","x":239.4,"y":900},{"s":"2:1 DMPC:DMPG (2000 μM)","x":240.2,"y":950},{"s":"2:1 DMPC:DMPG (2000 μM)","x":241.0,"y":850},{"s":"2:1 DMPC:DMPG (2000 μM)","x":241.8,"y":1000},{"s":"2:1 DMPC:DMPG (2000 μM)","x":242.6,"y":950},{"s":"2:1 DMPC:DMPG (2000 μM)","x":243.4,"y":900},{"s":"2:1 DMPC:DMPG (2000 μM)","x":244.2,"y":850},{"s":"2:1 DMPC:DMPG (2000 μM)","x":245.0,"y":1000},{"s":"2:1 DMPC:DMPG (2000 μM)","x":245.8,"y":950},{"s":"2:1 DMPC:DMPG (2000 μM)","x":246.6,"y":1000},{"s":"2:1 DMPC:DMPG (2000 μM)","x":247.4,"y":900},{"s":"2:1 DMPC:DMPG (2000 μM)","x":248.2,"y":850},{"s":"2:1 DMPC:DMPG (2000 μM)","x":249.0,"y":950},{"s":"2:1 DMPC:DMPG (2000 μM)","x":249.8,"y":900},{"s":"2:1 DMPC:DMPG (2000 μM)","x":250.6,"y":850},{"s":"2:1 DMPC:DMPG (2000 μM)","x":251.4,"y":900},{"s":"2:1 DMPC:DMPG (2000 μM)","x":252.2,"y":800},{"s":"2:1 DMPC:DMPG (2000 μM)","x":253.0,"y":850},{"s":"2:1 DMPC:DMPG (2000 μM)","x":253.8,"y":900},{"s":"2:1 DMPC:DMPG (2000 μM)","x":254.6,"y":950},{"s":"2:1 DMPC:DMPG (2000 μM)","x":255.4,"y":1000},{"s":"2:1 DMPC:DMPG (2000 μM)","x":256.2,"y":950},{"s":"2:1 DMPC:DMPG (2000 μM)","x":257.0,"y":900},{"s":"2:1 DMPC:DMPG (2000 μM)","x":257.8,"y":850},{"s":"2:1 DMPC:DMPG (2000 μM)","x":258.6,"y":950},{"s":"2:1 DMPC:DMPG (2000 μM)","x":259.3,"y":900},{"s":"2:1 DMPC:DMPG (2000 μM)","x":260.0,"y":800}
    ]
  }
}
